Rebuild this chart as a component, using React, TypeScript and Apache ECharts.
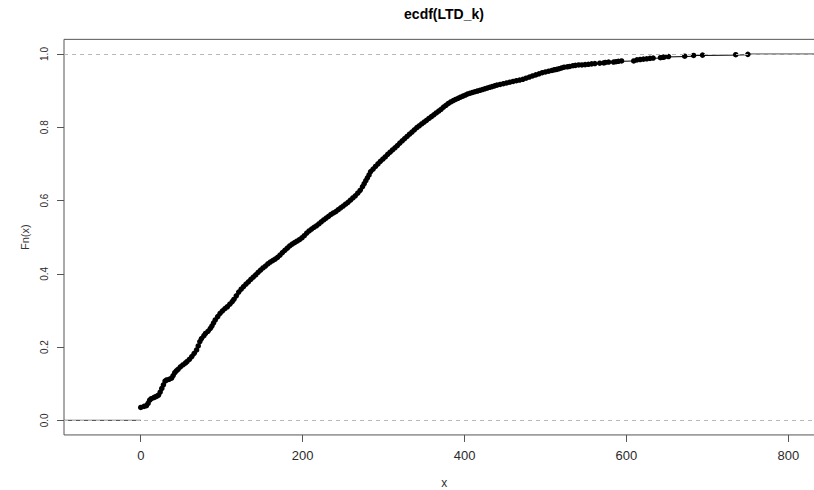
import React, { useEffect, useRef } from "react";
import * as echarts from "echarts";

// ECDF step points (x value, Fn(x))
const ecdfX = [
  0, 4, 7, 9, 11, 13, 16, 18, 20, 22, 24, 26, 28, 30, 32, 35, 38, 40, 42, 44, 46, 49, 52, 55, 57, 60,
  63, 66, 69, 71, 73, 75, 78, 80, 83, 86, 88, 90, 92, 95, 98, 101, 104, 107, 110, 113, 115, 118, 121,
  124, 127, 130, 133, 136, 139, 142, 145, 148, 151, 154, 157, 160, 163, 166, 169, 172, 175, 178, 181,
  184, 187, 190, 193, 196, 199, 202, 205, 208, 211, 214, 217, 220, 223, 226, 229, 232, 235, 238, 241,
  244, 247, 250, 253, 256, 259, 262, 265, 268, 271, 274, 276, 278, 280, 282, 284, 287, 290, 293, 296,
  299, 302, 305, 308, 311, 314, 317, 320, 323, 326, 329, 332, 335, 338, 341, 344, 347, 350, 353, 356,
  359, 362, 365, 368, 371, 374, 377, 380, 383, 386, 389, 392, 395, 398, 401, 404, 407, 410, 413, 416,
  419, 422, 425, 428, 431, 434, 437, 440, 444, 448, 452, 456, 460, 464, 468, 472, 476, 480, 484, 488,
  492, 496, 500, 504, 508, 511, 514, 517, 520, 523, 527, 530, 534, 537, 541, 545, 549,
  553, 557, 561, 567, 572, 574, 578, 584, 587, 590, 594, 609, 613, 617, 621, 625, 629, 633, 642, 645,
  647, 652, 672, 683, 694, 735, 750,
];
const ecdfY = [
  0.035, 0.038, 0.04, 0.046, 0.055, 0.059, 0.062, 0.064, 0.066, 0.069, 0.077, 0.087, 0.097, 0.107,
  0.11, 0.112, 0.115, 0.122, 0.13, 0.135, 0.139, 0.146, 0.151, 0.156, 0.16, 0.166, 0.174, 0.183, 0.192,
  0.203, 0.215, 0.223, 0.231, 0.237, 0.243, 0.251, 0.258, 0.266, 0.274, 0.283, 0.292, 0.299, 0.305,
  0.31, 0.317, 0.324, 0.33, 0.34, 0.35, 0.358, 0.365, 0.372, 0.378, 0.385, 0.391, 0.397, 0.404, 0.41,
  0.416, 0.421, 0.427, 0.432, 0.436, 0.44, 0.445, 0.451, 0.458, 0.464, 0.47, 0.476, 0.481, 0.485,
  0.489, 0.493, 0.498, 0.504, 0.511, 0.517, 0.522, 0.527, 0.531, 0.536, 0.542, 0.547, 0.552, 0.557,
  0.562, 0.566, 0.57, 0.575, 0.58, 0.585, 0.59, 0.595, 0.601, 0.607, 0.613, 0.62, 0.628, 0.638, 0.646,
  0.654, 0.662, 0.67, 0.679, 0.686, 0.693, 0.7, 0.707, 0.713, 0.719, 0.726, 0.732, 0.738, 0.744, 0.75,
  0.757, 0.763, 0.769, 0.775, 0.781, 0.787, 0.793, 0.799, 0.804, 0.809, 0.814, 0.819, 0.824, 0.829,
  0.834, 0.839, 0.844, 0.849, 0.855, 0.86, 0.865, 0.869, 0.873, 0.876, 0.879, 0.882, 0.885, 0.888,
  0.891, 0.893, 0.895, 0.897, 0.899, 0.901, 0.903, 0.905, 0.907, 0.909, 0.911, 0.913, 0.915, 0.917,
  0.919, 0.921, 0.923, 0.925, 0.927, 0.929, 0.931, 0.934, 0.937, 0.940, 0.943, 0.946,
  0.949, 0.951, 0.953, 0.955, 0.957, 0.958, 0.96, 0.962, 0.964, 0.965, 0.966, 0.968, 0.969, 0.97, 0.97,
  0.971, 0.972, 0.973, 0.974, 0.975, 0.9755, 0.977, 0.978, 0.978, 0.979, 0.98, 0.981, 0.981, 0.984,
  0.985, 0.986, 0.987, 0.988, 0.989, 0.99, 0.991, 0.992, 0.993, 0.994, 0.996, 0.997, 0.998, 0.999, 1.0,
];

const xTicks = [0, 200, 400, 600, 800];
const yTicks = [0, 0.2, 0.4, 0.6, 0.8, 1.0];
const yTickLabels = ["0.0", "0.2", "0.4", "0.6", "0.8", "1.0"];
const refLevels = [0, 1];

const X_MIN = -94.8;
const X_MAX = 844.8;
const Y_MIN = -0.04;
const Y_MAX = 1.04;

export default function App() {
  const ref = useRef<HTMLDivElement>(null);

  useEffect(() => {
    if (!ref.current) return;
    const chart = echarts.init(ref.current, undefined, { renderer: "svg" });
    const pts = ecdfX.map((x, i) => [x, ecdfY[i]]);
    const axisColor = "#555555";
    const regular = "'Liberation Sans', Arial, sans-serif";

    chart.setOption({
      animation: false,
      backgroundColor: "#ffffff",
      grid: {
        left: 64,
        right: -10.6,
        top: 39.35,
        bottom: 55.05,
        show: true,
        borderColor: axisColor,
        borderWidth: 1,
        containLabel: false,
        outerBoundsMode: "none",
      },
      graphic: [
        {
          type: "text",
          x: 444,
          y: 13.5,
          style: {
            text: "ecdf(LTD_k)",
            align: "center",
            verticalAlign: "middle",
            textAlign: "center",
            textVerticalAlign: "middle",
            font: "bold 14px 'Liberation Sans', Arial, sans-serif",
            fill: "#000",
          },
        },
      ],
      xAxis: {
        type: "value",
        min: X_MIN,
        max: X_MAX,
        name: "x",
        nameLocation: "middle",
        nameGap: 42,
        nameTextStyle: { fontFamily: regular, fontSize: 12, color: "#333" },
        axisLine: { show: false, onZero: false },
        splitLine: { show: false },
        axisTick: {
          show: true,
          length: 7,
          customValues: xTicks,
          lineStyle: { color: axisColor },
        },
        axisLabel: {
          customValues: xTicks,
          margin: 14,
          fontFamily: regular,
          fontSize: 13,
          color: "#2a2a2a",
        },
      },
      yAxis: {
        type: "value",
        min: Y_MIN,
        max: Y_MAX,
        name: "Fn(x)",
        nameLocation: "middle",
        nameRotate: 90,
        nameGap: 34,
        nameTextStyle: { fontFamily: regular, fontSize: 11, color: "#333" },
        axisLine: { show: false, onZero: false },
        splitLine: { show: false },
        axisTick: {
          show: true,
          length: 7,
          customValues: yTicks,
          lineStyle: { color: axisColor },
        },
        axisLabel: {
          customValues: yTicks,
          rotate: 90,
          margin: 15,
          fontFamily: regular,
          fontSize: 10,
          color: "#2a2a2a",
          formatter: (v: number) => {
            const i = yTicks.findIndex((t) => Math.abs(t - v) < 1e-9);
            return i >= 0 ? yTickLabels[i] : "";
          },
        },
      },
      series: [
        {
          type: "line",
          data: [],
          z: 1,
          silent: true,
          markLine: {
            silent: true,
            symbol: ["none", "none"],
            label: { show: false },
            lineStyle: { color: "#b8b8b8", type: [4, 4], width: 1 },
            data: refLevels.map((v) => ({ yAxis: v })),
          },
        },
        {
          type: "line",
          z: 3,
          data: [
            [X_MIN, 0],
            [ecdfX[0], 0],
          ],
          symbol: "none",
          lineStyle: { color: "#333", width: 1 },
        },
        {
          type: "line",
          z: 3,
          data: [
            [ecdfX[ecdfX.length - 1], 1],
            [X_MAX, 1],
          ],
          symbol: "none",
          lineStyle: { color: "#333", width: 1 },
        },
        {
          type: "line",
          z: 4,
          step: "end",
          data: pts,
          symbol: "circle",
          symbolSize: 5.5,
          showSymbol: true,
          itemStyle: { color: "#000" },
          lineStyle: { color: "#000", width: 1 },
        },
      ],
    });

    return () => chart.dispose();
  }, []);

  return (
    <div
      ref={ref}
      style={{ position: "fixed", left: 0, top: 0, width: 814, height: 490 }}
    />
  );
}
